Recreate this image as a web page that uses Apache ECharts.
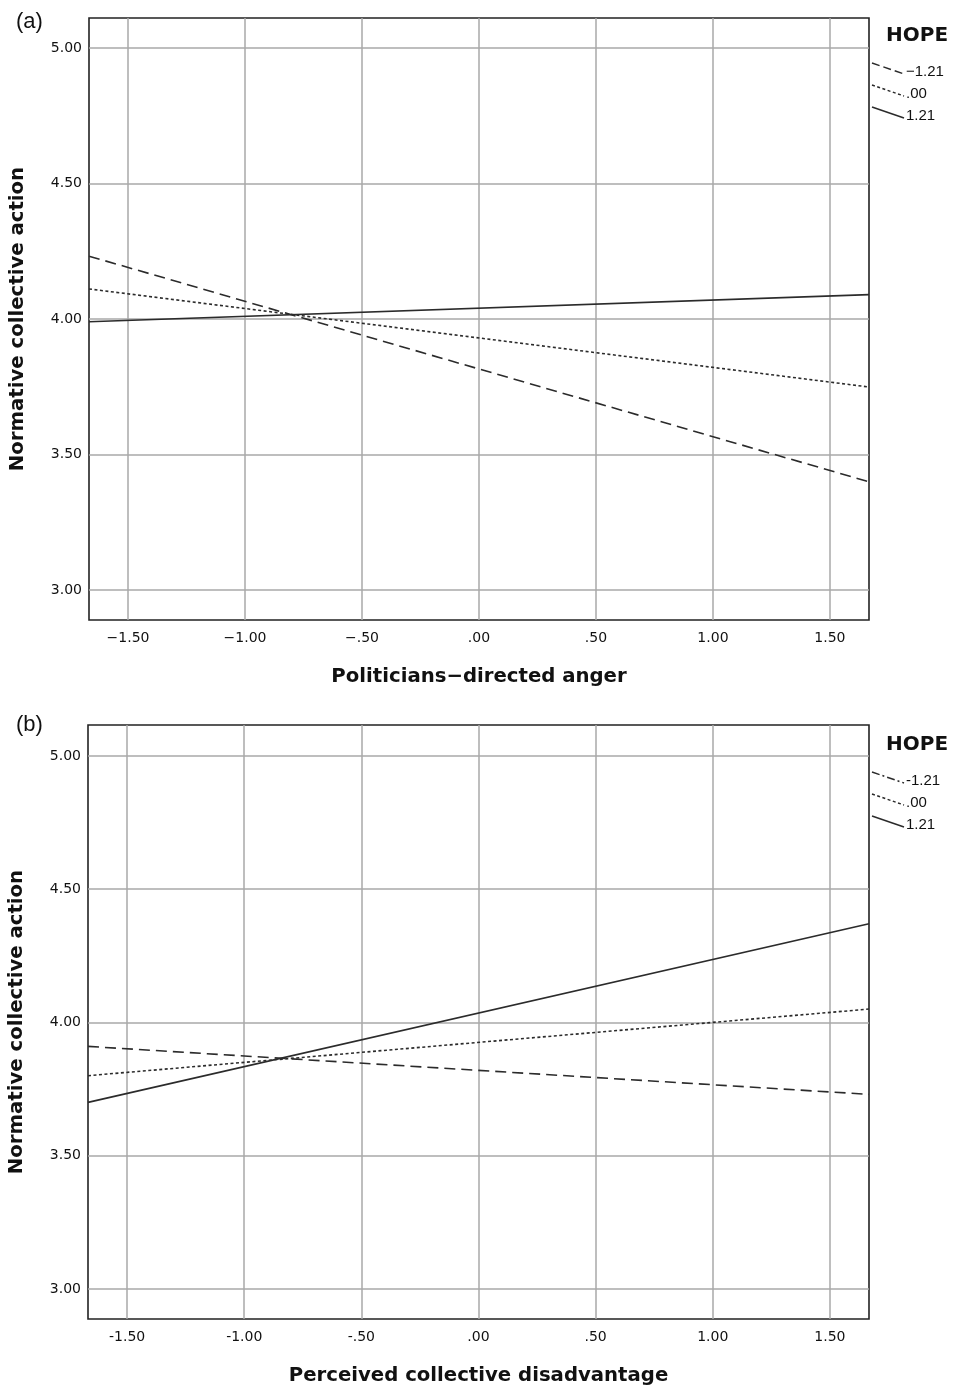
<!DOCTYPE html>
<html>
<head>
<meta charset="utf-8">
<script src="https://cdn.jsdelivr.net/npm/echarts@6/dist/echarts.min.js"></script>
<style>
    html, body { margin: 0; padding: 0; background: #fff; }
    #chart { width: 966px; height: 1387px; }
</style>
</head>
<body>
<div id="chart"></div>
<script>
// simple slopes, both predictors run over the same x range
const xEnds = [-1.667, 1.667];
const xTicks = [-1.5, -1.0, -0.5, 0, 0.5, 1.0, 1.5];
const yTicks = [3.0, 3.5, 4.0, 4.5, 5.0];
const hopeLabelsA = ['\u22121.21', '.00', '1.21'];
const hopeLabelsB = ['-1.21', '.00', '1.21'];

// (a) politicians-directed anger
const angerLow = [4.232, 3.399];
const angerMid = [4.111, 3.749];
const angerHigh = [3.99, 4.09];

// (b) perceived collective disadvantage
const disadvLow = [3.91, 3.73];
const disadvMid = [3.80, 4.05];
const disadvHigh = [3.70, 4.37];

const ink = '#2b2b2b';
const gridGray = '#a9a9a9';
const tickFont = 'DejaVu Sans';

function fmtX(minus) {
    return function (v) {
        let s = Math.abs(v).toFixed(2);
        if (s.charAt(0) === '0') s = s.slice(1);
        return v < 0 ? minus + s : s;
    };
}

function xAxisFor(idx, name, minus) {
    return {
        gridIndex: idx, type: 'value', min: xEnds[0], max: xEnds[1],
        name: name, nameLocation: 'middle', nameGap: 47,
        nameTextStyle: { fontFamily: tickFont, fontWeight: 'bold', fontSize: 19.7, color: '#111' },
        axisLine: { show: false },
        axisTick: { show: false, customValues: xTicks },
        axisLabel: { customValues: xTicks, formatter: fmtX(minus), fontFamily: tickFont, fontSize: 14, color: '#111', margin: 11 },
        splitLine: { show: true, lineStyle: { color: gridGray, width: 1.5 } }
    };
}

function yAxisFor(idx, min, max) {
    return {
        gridIndex: idx, type: 'value', min: min, max: max,
        name: 'Normative collective action', nameLocation: 'middle', nameGap: 61,
        nameTextStyle: { fontFamily: tickFont, fontWeight: 'bold', fontSize: 19.7, color: '#111' },
        axisLine: { show: false },
        axisTick: { show: false, customValues: yTicks },
        axisLabel: { customValues: yTicks, formatter: v => v.toFixed(2), fontFamily: tickFont, fontSize: 14, color: '#111', margin: 7 },
        splitLine: { show: true, lineStyle: { color: gridGray, width: 1.5 } }
    };
}

function lineSeries(idx, name, vals, dash) {
    return {
        name: name, type: 'line', xAxisIndex: idx, yAxisIndex: idx,
        data: xEnds.map((x, i) => [x, vals[i]]),
        symbol: 'none', silent: true,
        lineStyle: { color: ink, width: 1.6, type: dash }
    };
}

// little sloped legend keys like the SPSS output
function legendKeys(top, labels, firstDash) {
    const dashes = [firstDash, [3, 2.5], null];
    const out = [{
        type: 'text', left: 886, top: top,
        style: { text: 'HOPE', fontFamily: tickFont, fontWeight: 'bold', fontSize: 20, fill: '#111' }
    }];
    labels.forEach((lab, i) => {
        const y0 = top + 37 + i * 22;
        out.push({
            type: 'line',
            shape: { x1: 872, y1: y0, x2: 904, y2: y0 + 11 },
            style: { stroke: ink, lineWidth: 1.5, lineDash: dashes[i] }
        });
        out.push({
            type: 'text', left: 906, top: y0 + 1,
            style: { text: lab, fontFamily: 'Liberation Sans', fontSize: 15, fill: '#111' }
        });
    });
    return out;
}

const chart = echarts.init(document.getElementById('chart'));
chart.setOption({
    animation: false,
    backgroundColor: '#fff',
    grid: [
        { left: 89, top: 18, width: 780, height: 602, outerBoundsMode: 'none', show: true, borderColor: '#222', borderWidth: 1.6, backgroundColor: '#fff' },
        { left: 88, top: 725, width: 781, height: 594, outerBoundsMode: 'none', show: true, borderColor: '#222', borderWidth: 1.6, backgroundColor: '#fff' }
    ],
    xAxis: [
        xAxisFor(0, 'Politicians\u2212directed anger', '\u2212'),
        xAxisFor(1, 'Perceived collective disadvantage', '-')
    ],
    yAxis: [
        yAxisFor(0, 2.889, 5.111),
        yAxisFor(1, 2.887, 5.116)
    ],
    series: [
        lineSeries(0, hopeLabelsA[0], angerLow, [11, 6]),
        lineSeries(0, hopeLabelsA[1], angerMid, [3, 2.5]),
        lineSeries(0, hopeLabelsA[2], angerHigh, 'solid'),
        lineSeries(1, hopeLabelsB[0], disadvLow, [11, 6]),
        lineSeries(1, hopeLabelsB[1], disadvMid, [3, 2.5]),
        lineSeries(1, hopeLabelsB[2], disadvHigh, 'solid')
    ],
    graphic: [
        { type: 'text', left: 16, top: 11, style: { text: '(a)', fontFamily: 'Liberation Sans', fontSize: 22, fill: '#111' } },
        { type: 'text', left: 16, top: 714, style: { text: '(b)', fontFamily: 'Liberation Sans', fontSize: 22, fill: '#111' } }
    ].concat(legendKeys(26, hopeLabelsA, [8, 4]), legendKeys(735, hopeLabelsB, [8, 3, 2, 3]))
});
</script>
</body>
</html>
